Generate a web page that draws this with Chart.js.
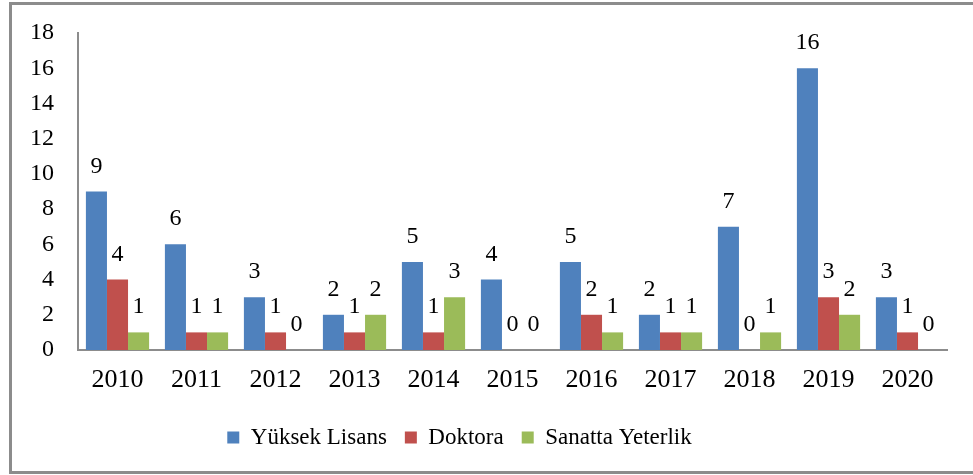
<!DOCTYPE html>
<html>
<head>
<meta charset="utf-8">
<script src="https://cdn.jsdelivr.net/npm/chart.js@4/dist/chart.umd.min.js"></script>
<style>
  html, body { margin: 0; padding: 0; background: #fff; }
  #wrap { position: relative; width: 973px; height: 475px; overflow: hidden; }
  #frame { position: absolute; left: 9px; top: 2px; width: 970px; height: 466px;
           border-left: 3px solid #8c8c8c; border-top: 3px solid #8c8c8c; border-bottom: 3px solid #8c8c8c;
           pointer-events: none; }
  canvas { position: absolute; left: 0; top: 0; }
</style>
</head>
<body>
<div id="wrap">
  <canvas id="c" width="973" height="475"></canvas>
  <div id="frame"></div>
</div>
<script>
const categories = ['2010','2011','2012','2013','2014','2015','2016','2017','2018','2019','2020'];
const yuksekLisans = [9, 6, 3, 2, 5, 4, 5, 2, 7, 16, 3];
const doktora = [4, 1, 1, 1, 1, 0, 2, 1, 0, 3, 1];
const sanattaYeterlik = [1, 1, 0, 2, 3, 0, 1, 1, 1, 2, 0];
const seriesNames = ['Yüksek Lisans', 'Doktora', 'Sanatta Yeterlik'];
const yTicks = [0, 2, 4, 6, 8, 10, 12, 14, 16, 18];

const FONT = "'Liberation Serif', 'Times New Roman', serif";

const valueLabels = {
  id: 'valueLabels',
  afterDatasetsDraw(chart) {
    const ctx = chart.ctx;
    ctx.save();
    ctx.font = '24px ' + FONT;
    ctx.fillStyle = '#000';
    ctx.textAlign = 'center';
    ctx.textBaseline = 'alphabetic';
    chart.data.datasets.forEach((ds, i) => {
      const meta = chart.getDatasetMeta(i);
      meta.data.forEach((bar, j) => {
        ctx.fillText(String(ds.data[j]), bar.x, bar.y - 19);
      });
    });
    ctx.restore();
  }
};

const legendTweak = {
  id: 'legendTweak',
  beforeLayout(chart) {
    const lg = chart.legend;
    if (lg && !lg._patched) {
      lg._patched = true;
      const origFit = lg.fit.bind(lg);
      lg.fit = function () { origFit(); this.height = 67; };
    }
  },
  afterLayout(chart) {
    const lg = chart.legend;
    if (lg) { lg.left -= 14; lg.right -= 14; }
  }
};

new Chart(document.getElementById('c'), {
  type: 'bar',
  data: {
    labels: categories,
    datasets: [
      { label: seriesNames[0], data: yuksekLisans, backgroundColor: '#4F81BD' },
      { label: seriesNames[1], data: doktora, backgroundColor: '#C0504D' },
      { label: seriesNames[2], data: sanattaYeterlik, backgroundColor: '#9BBB59' }
    ]
  },
  options: {
    responsive: false,
    animation: false,
    devicePixelRatio: 1,
    categoryPercentage: 0.8,
    barPercentage: 1.0,
    layout: { padding: { left: 0, right: 26, top: 33, bottom: 0 } },
    plugins: {
      tooltip: { enabled: false },
      legend: {
        position: 'bottom',
        labels: {
          boxWidth: 12, boxHeight: 12, padding: 18,
          color: '#000',
          font: { family: FONT, size: 23 }
        }
      }
    },
    scales: {
      x: {
        grid: { display: false, drawTicks: false },
        border: { display: true, color: '#8c8c8c', width: 2 },
        ticks: { color: '#000', padding: 15, font: { family: FONT, size: 26 }, maxRotation: 0 },
        afterFit(s) { s.height = 58; s.paddingLeft = 0; s.paddingRight = 0; }
      },
      y: {
        min: 0, max: 18,
        grid: { display: false, drawTicks: false },
        border: { display: true, color: '#8c8c8c', width: 2 },
        afterBuildTicks(s) { s.ticks = yTicks.map(v => ({ value: v })); },
        ticks: { color: '#000', padding: 24, font: { family: FONT, size: 24 } },
        afterFit(s) { s.width = 78; s.paddingTop = 10; s.paddingBottom = 10; }
      }
    }
  },
  plugins: [valueLabels, legendTweak]
});
</script>
</body>
</html>
